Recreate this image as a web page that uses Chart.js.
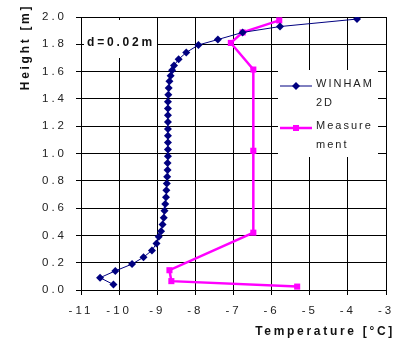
<!DOCTYPE html>
<html>
<head>
<meta charset="utf-8">
<script src="https://cdn.jsdelivr.net/npm/chart.js@4.4.0/dist/chart.umd.min.js"></script>
<style>
  body { margin: 0; background: #fff; }
  #graphCanvas { display: block; }
</style>
</head>
<body>
<canvas id="graphCanvas" width="394" height="341"></canvas>
<script>
// WINHAM 2D simulation profile (temperature, height)
var winhamTemp = [-10.15, -10.5, -10.1, -9.66, -9.36, -9.14, -9.02, -8.96, -8.9, -8.86,
                  -8.83, -8.81, -8.79, -8.77, -8.76, -8.75, -8.74, -8.73, -8.73, -8.72,
                  -8.72, -8.72, -8.72, -8.72, -8.72, -8.72, -8.72, -8.72, -8.71, -8.7,
                  -8.68, -8.65, -8.61, -8.56, -8.44, -8.24, -7.92, -7.41, -6.76, -5.78, -3.76];
var winhamHeight = [0.04, 0.09, 0.14, 0.19, 0.24, 0.29, 0.34, 0.39, 0.43, 0.48,
                    0.53, 0.58, 0.63, 0.68, 0.73, 0.78, 0.83, 0.88, 0.93, 0.98,
                    1.03, 1.08, 1.13, 1.18, 1.23, 1.28, 1.33, 1.38, 1.43, 1.48,
                    1.53, 1.57, 1.61, 1.645, 1.69, 1.74, 1.795, 1.835, 1.887, 1.93, 1.985];

// measured profile
var measTemp = [-5.8, -6.76, -7.07, -6.48, -6.48, -6.48, -8.68, -8.63, -5.33];
var measHeight = [1.975, 1.887, 1.81, 1.615, 1.02, 0.42, 0.145, 0.065, 0.025];

var xTicks = [-11, -10, -9, -8, -7, -6, -5, -4, -3];
var yTicks = [0.0, 0.2, 0.4, 0.6, 0.8, 1.0, 1.2, 1.4, 1.6, 1.8, 2.0];

var seriesNames = ['WINHAM', '2D', 'Measure', 'ment'];
var xTitle = 'Temperature [°C]';
var yTitle = 'Height [m]';
var noteText = 'd=0.02m';

function toPoints(xs, ys) {
    var pts = [];
    for (var i in xs) {
        pts.push({ x: xs[i], y: ys[i] });
    }
    return pts;
}

function spaced(ctx, px) {
    if ('letterSpacing' in ctx) ctx.letterSpacing = px + 'px';
}

var textPlugin = {
    id: 'textPlugin',
    beforeLayout: function (chart) { spaced(chart.ctx, 3); },
    beforeDraw: function (chart) { spaced(chart.ctx, 3); },
    beforeDatasetsDraw: function (chart) {
        var ctx = chart.ctx;
        ctx.save();
        // white boxes over the grid
        ctx.fillStyle = '#fff';
        ctx.fillRect(84, 20, 73, 38);
        ctx.fillRect(278, 70, 100, 87);

        // note
        ctx.fillStyle = '#111';
        ctx.font = 'bold 12px "Liberation Sans", Arial, sans-serif';
        spaced(ctx, 2.8);
        ctx.textAlign = 'left';
        ctx.textBaseline = 'middle';
        ctx.fillText(noteText, 87, 43);

        // legend
        ctx.strokeStyle = '#000080';
        ctx.lineWidth = 1;
        ctx.beginPath();
        ctx.moveTo(280, 86); ctx.lineTo(312, 86);
        ctx.stroke();
        ctx.fillStyle = '#000080';
        ctx.beginPath();
        ctx.moveTo(296, 82); ctx.lineTo(300, 86); ctx.lineTo(296, 90); ctx.lineTo(292, 86);
        ctx.closePath();
        ctx.fill();

        ctx.strokeStyle = '#ff00ff';
        ctx.lineWidth = 2.5;
        ctx.beginPath();
        ctx.moveTo(280, 128); ctx.lineTo(312, 128);
        ctx.stroke();
        ctx.fillStyle = '#ff00ff';
        ctx.fillRect(293, 125, 6, 6);

        ctx.fillStyle = '#222';
        ctx.font = '11px "Liberation Sans", Arial, sans-serif';
        spaced(ctx, 2);
        ctx.fillText(seriesNames[0], 316, 84);
        ctx.fillText(seriesNames[1], 316, 103);
        ctx.fillText(seriesNames[2], 316, 126);
        ctx.fillText(seriesNames[3], 316, 145);

        // axis titles
        ctx.fillStyle = '#111';
        ctx.font = 'bold 12px "Liberation Sans", Arial, sans-serif';
        spaced(ctx, 2.7);
        ctx.textAlign = 'right';
        ctx.fillText(xTitle, 395, 332);

        ctx.translate(26, 47);
        ctx.rotate(-Math.PI / 2);
        ctx.textAlign = 'center';
        ctx.fillText(yTitle, 0, 0);
        ctx.restore();
        spaced(ctx, 3);
    }
};

var fontFamily = '"Liberation Sans", Arial, sans-serif';

var chartdata = {
    datasets: [
        {
            label: 'WINHAM 2D',
            data: toPoints(winhamTemp, winhamHeight),
            borderColor: '#000080',
            backgroundColor: '#000080',
            borderWidth: 1,
            pointStyle: 'rectRot',
            pointRadius: 4,
            pointBorderWidth: 0,
            showLine: true,
            tension: 0
        },
        {
            label: 'Measurement',
            data: toPoints(measTemp, measHeight),
            borderColor: '#ff00ff',
            backgroundColor: '#ff00ff',
            borderWidth: 2.5,
            pointStyle: 'rect',
            pointRadius: 4.3,
            pointBorderWidth: 0,
            showLine: true,
            tension: 0
        }
    ]
};

var graphTarget = document.getElementById('graphCanvas');

var chart = new Chart(graphTarget, {
    type: 'scatter',
    data: chartdata,
    plugins: [textPlugin],
    options: {
        responsive: false,
        animation: false,
        devicePixelRatio: 1,
        layout: { padding: { top: 17, right: 8, left: 0, bottom: 0 } },
        plugins: {
            legend: { display: false },
            tooltip: { enabled: false }
        },
        scales: {
            x: {
                type: 'linear',
                min: xTicks[0],
                max: xTicks[xTicks.length - 1],
                afterBuildTicks: function (scale) {
                    scale.ticks = xTicks.map(function (v) { return { value: v }; });
                },
                afterFit: function (scale) {
                    scale.height = 51;
                    scale.paddingLeft = 0;
                    scale.paddingRight = 0;
                },
                grid: { color: '#000', lineWidth: 1, tickLength: 5 },
                border: { color: '#000', width: 1 },
                ticks: {
                    color: '#222',
                    padding: 9,
                    font: { family: fontFamily, size: 11.5 },
                    callback: function (v) { return String(v); }
                }
            },
            y: {
                type: 'linear',
                min: yTicks[0],
                max: yTicks[yTicks.length - 1],
                afterBuildTicks: function (scale) {
                    scale.ticks = yTicks.map(function (v) { return { value: v }; });
                },
                afterFit: function (scale) {
                    scale.width = 81;
                    scale.paddingTop = 0;
                    scale.paddingBottom = 0;
                },
                grid: { color: '#000', lineWidth: 1, tickLength: 5 },
                border: { color: '#000', width: 1 },
                ticks: {
                    color: '#222',
                    padding: 9,
                    font: { family: fontFamily, size: 11.5 },
                    callback: function (v) { return Number(v).toFixed(1); }
                }
            }
        }
    }
});
</script>
</body>
</html>
